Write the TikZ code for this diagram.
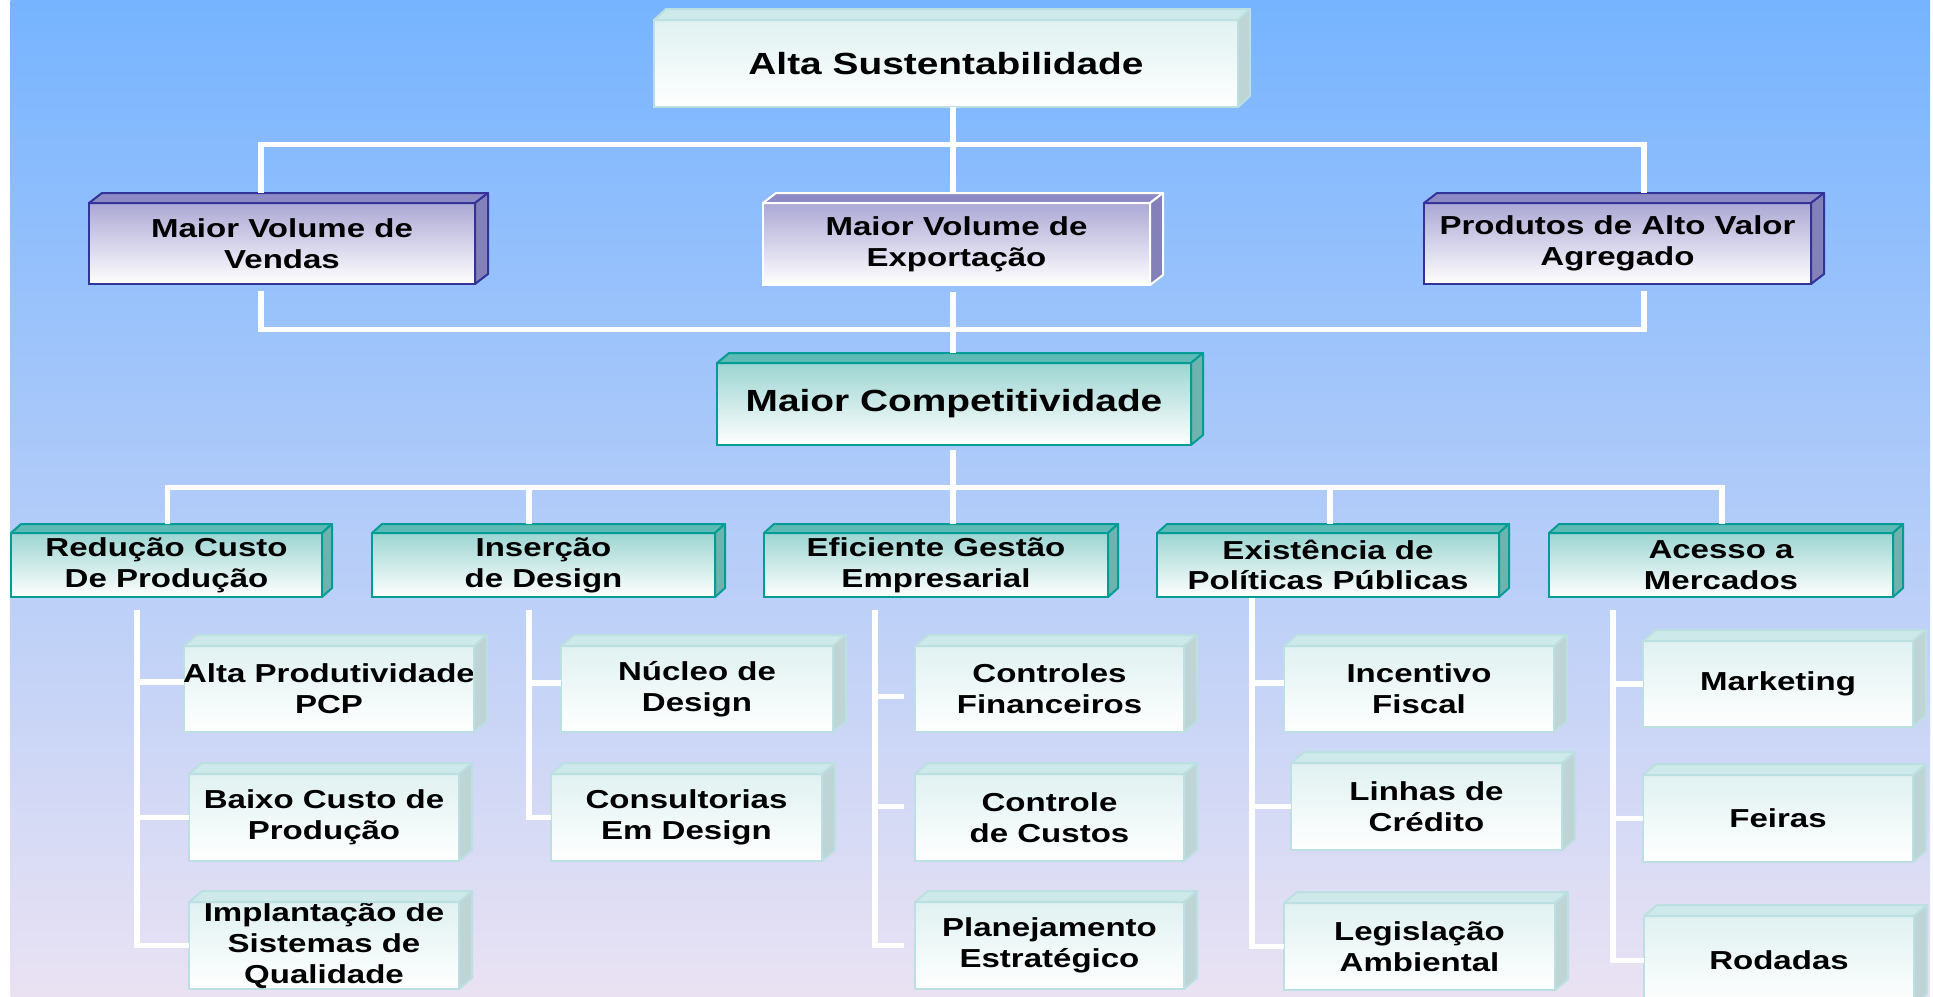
\documentclass[tikz,border=0pt]{standalone}
\usepackage{fontspec}
\setmainfont{Liberation Sans}[FakeStretch=1.27]
\usetikzlibrary{calc}
\definecolor{bgtop}{RGB}{118,180,255}
\definecolor{bgmid}{RGB}{168,204,245}
\definecolor{bgbot}{RGB}{234,226,243}
\definecolor{litefront}{RGB}{224,241,241}
\definecolor{liteedge}{RGB}{188,224,226}
\definecolor{litetop}{RGB}{205,233,233}
\definecolor{liteside}{RGB}{190,212,213}
\definecolor{purpfront}{RGB}{172,168,213}
\definecolor{purpedge}{RGB}{51,51,153}
\definecolor{purptop}{RGB}{141,138,198}
\definecolor{purpside}{RGB}{132,128,184}
\definecolor{tealfront}{RGB}{156,213,210}
\definecolor{tealedge}{RGB}{0,156,150}
\definecolor{tealtop}{RGB}{93,186,180}
\definecolor{tealside}{RGB}{111,179,174}
\tikzset{
  box/.style={rectangle, inner sep=0pt, outer sep=0pt, line width=1pt},
  lite/.style={box, draw=liteedge, top color=litefront, bottom color=white},
  purp/.style={box, draw=purpedge, top color=purpfront, bottom color=white},
  purpw/.style={box, draw=white, top color=purpfront, bottom color=white},
  teal/.style={box, draw=tealedge, top color=tealfront, bottom color=white},
  lbl/.style={align=center, inner sep=0pt, text=black, font=\bfseries\fontsize{13}{15.4}\selectfont},
  biglbl/.style={align=center, inner sep=0pt, text=black, font=\bfseries\fontsize{15.3}{18}\selectfont},
  conn/.style={draw=white, line width=2.7pt, line join=miter},
}
% style, name, x1, y1, x2, y2, label style, text
\newcommand\mkbox[8]{%
  \node[#1, minimum width={(#5-#3)*0.5pt}, minimum height={(#6-#4)*0.5pt}] (#2) at ({(#3+#5)/2},{(#4+#6)/2}) {};
  \node[#7] (#2-t) at (#2.center) {#8};
}
% name, top fill, side fill, edge, dx, dy
\newcommand\mkfaces[6]{%
  \filldraw[fill=#2, draw=#4, line width=1pt, line join=round] (#1.north west) -- ++(#5,-#6) -- ([shift={(#5,-#6)}]#1.north east) -- (#1.north east) -- cycle;
  \filldraw[fill=#3, draw=#4, line width=1pt, line join=round] (#1.north east) -- ++(#5,-#6) -- ([shift={(#5,-#6)}]#1.south east) -- (#1.south east) -- cycle;
}
\begin{document}
\begin{tikzpicture}[x=0.5pt, y=-0.5pt]
\useasboundingbox (0,0) rectangle (1933,996);
\clip (0,0) rectangle (1933,996);
\fill[white] (0,0) rectangle (1933,996);
\shade[top color=bgtop, middle color=bgmid, bottom color=bgbot] (10.5,0) rectangle (1930,996);

% level 1
\mkbox{lite}{alta}{654}{20}{1238}{107}{biglbl}{Alta Sustentabilidade}
\mkfaces{alta}{litetop}{liteside}{liteedge}{12}{11}
% level 2
\mkbox{purp}{vendas}{89}{203}{475}{284}{lbl}{Maior Volume de\\Vendas}
\mkfaces{vendas}{purptop}{purpside}{purpedge}{13}{10}
\mkbox{purpw}{export}{763}{203}{1150}{285}{lbl}{Maior Volume de\\Exportação}
\mkfaces{export}{purptop}{purpside}{white}{13}{10}
\mkbox{purp}{produtos}{1424}{203}{1811}{284}{lbl}{Produtos de Alto Valor\\Agregado}
\mkfaces{produtos}{purptop}{purpside}{purpedge}{13}{10}
% competitividade
\mkbox{teal}{comp}{717}{363}{1191}{445}{biglbl}{Maior Competitividade}
\mkfaces{comp}{tealtop}{tealside}{tealedge}{12}{10}
% level 3
\mkbox{teal}{red}{11}{533}{322}{597}{lbl}{Redução Custo\\De Produção}
\mkfaces{red}{tealtop}{tealside}{tealedge}{10}{9}
\mkbox{teal}{ins}{372}{533}{715}{597}{lbl}{Inserção\\de Design}
\mkfaces{ins}{tealtop}{tealside}{tealedge}{10}{9}
\mkbox{teal}{efi}{764}{533}{1108}{597}{lbl}{Eficiente Gestão\\Empresarial}
\mkfaces{efi}{tealtop}{tealside}{tealedge}{10}{9}
\mkbox{teal}{exi}{1157}{533}{1499}{597}{lbl}{Existência de\\Políticas Públicas}
\mkfaces{exi}{tealtop}{tealside}{tealedge}{10}{9}
\mkbox{teal}{ace}{1549}{533}{1893}{597}{lbl}{Acesso a\\Mercados}
\mkfaces{ace}{tealtop}{tealside}{tealedge}{10}{9}
% level 4
\mkbox{lite}{ap}{184}{646}{474}{732}{lbl}{Alta Produtividade\\PCP}
\mkfaces{ap}{litetop}{liteside}{liteedge}{13}{11}
\mkbox{lite}{bc}{189}{774}{459}{861}{lbl}{Baixo Custo de\\Produção}
\mkfaces{bc}{litetop}{liteside}{liteedge}{13}{11}
\mkbox{lite}{is}{189}{902}{459}{989}{lbl}{Implantação de\\Sistemas de\\Qualidade}
\mkfaces{is}{litetop}{liteside}{liteedge}{13}{11}
\mkbox{lite}{nd}{561}{646}{833}{732}{lbl}{Núcleo de\\Design}
\mkfaces{nd}{litetop}{liteside}{liteedge}{13}{11}
\mkbox{lite}{cd}{551}{774}{822}{861}{lbl}{Consultorias\\Em Design}
\mkfaces{cd}{litetop}{liteside}{liteedge}{13}{11}
\mkbox{lite}{cf}{915}{646}{1184}{732}{lbl}{Controles\\Financeiros}
\mkfaces{cf}{litetop}{liteside}{liteedge}{13}{11}
\mkbox{lite}{cc}{915}{774}{1184}{861}{lbl}{Controle\\de Custos}
\mkfaces{cc}{litetop}{liteside}{liteedge}{13}{11}
\mkbox{lite}{pe}{915}{902}{1184}{989}{lbl}{Planejamento\\Estratégico}
\mkfaces{pe}{litetop}{liteside}{liteedge}{13}{11}
\mkbox{lite}{inc}{1284}{646}{1554}{732}{lbl}{Incentivo\\Fiscal}
\mkfaces{inc}{litetop}{liteside}{liteedge}{13}{11}
\mkbox{lite}{lc}{1291}{763}{1562}{850}{lbl}{Linhas de\\Crédito}
\mkfaces{lc}{litetop}{liteside}{liteedge}{13}{11}
\mkbox{lite}{la}{1284}{903}{1555}{990}{lbl}{Legislação\\Ambiental}
\mkfaces{la}{litetop}{liteside}{liteedge}{13}{11}
\mkbox{lite}{mk}{1643}{641}{1913}{727}{lbl}{Marketing}
\mkfaces{mk}{litetop}{liteside}{liteedge}{13}{11}
\mkbox{lite}{fe}{1643}{775}{1913}{862}{lbl}{Feiras}
\mkfaces{fe}{litetop}{liteside}{liteedge}{13}{11}
\mkbox{lite}{ro}{1644}{916}{1914}{1005}{lbl}{Rodadas}
\mkfaces{ro}{litetop}{liteside}{liteedge}{13}{11}

% bus coordinates
\coordinate (b1l) at (261,144.5);
\coordinate (b1c) at (953,144.5);
\coordinate (b1r) at (1644,144.5);
\coordinate (b2l) at (261,329.5);
\coordinate (b2c) at (953,329.5);
\coordinate (b2r) at (1644,329.5);
\coordinate (b3l) at (167.5,487.5);
\coordinate (b3c) at (953,487.5);
\coordinate (b3r) at (1722,487.5);
\coordinate (d2) at (529,487.5);
\coordinate (d4) at (1330,487.5);
\coordinate (c1) at (137,610);
\coordinate (c2) at (529,610);
\coordinate (c3) at (875,610);
\coordinate (c4) at (1252,598);
\coordinate (c5) at (1613,610);

% connectors level 1-2
\draw[conn] (alta.south -| b1c) -- ($(export.north -| b1c)+(0,-10)$);
\draw[conn] ($(vendas.north -| b1l)+(0,-10)$) -- (b1l) -- (b1r) -- ($(produtos.north -| b1r)+(0,-10)$);
\draw[conn] ($(vendas.south -| b2l)+(0,7)$) -- (b2l) -- (b2r) -- ($(produtos.south -| b2r)+(0,7)$);
\draw[conn] ($(export.south -| b2c)+(0,7)$) -- ($(comp.north -| b2c)+(0,-10)$);
% connectors to level 3
\draw[conn] ($(comp.south -| b3c)+(0,5)$) -- ($(efi.north -| b3c)+(0,-9)$);
\draw[conn] ($(red.north -| b3l)+(0,-9)$) -- (b3l) -- (b3r) -- ($(ace.north -| b3r)+(0,-9)$);
\draw[conn] (d2) -- ($(ins.north -| d2)+(0,-9)$);
\draw[conn] (d4) -- ($(exi.north -| d4)+(0,-9)$);
% column 1
\draw[conn] (c1) |- (is.west);
\draw[conn] ([yshift=3.5pt]ap.west -| c1) -- ([yshift=3.5pt]ap.west);
\draw[conn] (bc.west -| c1) -- (bc.west);
% column 2
\draw[conn] (c2) |- (cd.west);
\draw[conn] ([yshift=3pt]nd.west -| c2) -- ([yshift=3pt]nd.west);
% column 3
\draw[conn] (c3) |- ([xshift=-5.5pt]pe.west);
\draw[conn] ([yshift=-3.8pt]cf.west -| c3) -- ([xshift=-5.5pt,yshift=-3.8pt]cf.west);
\draw[conn] ([yshift=5.4pt]cc.west -| c3) -- ([xshift=-5.5pt,yshift=5.4pt]cc.west);
% column 4
\draw[conn] (c4) |- (la.west);
\draw[conn] ([yshift=3pt]inc.west -| c4) -- ([yshift=3pt]inc.west);
\draw[conn] (lc.west -| c4) -- (lc.west);
% column 5
\draw[conn] (c5) |- (ro.west);
\draw[conn] (mk.west -| c5) -- (mk.west);
\draw[conn] (fe.west -| c5) -- (fe.west);
\end{tikzpicture}
\end{document}
